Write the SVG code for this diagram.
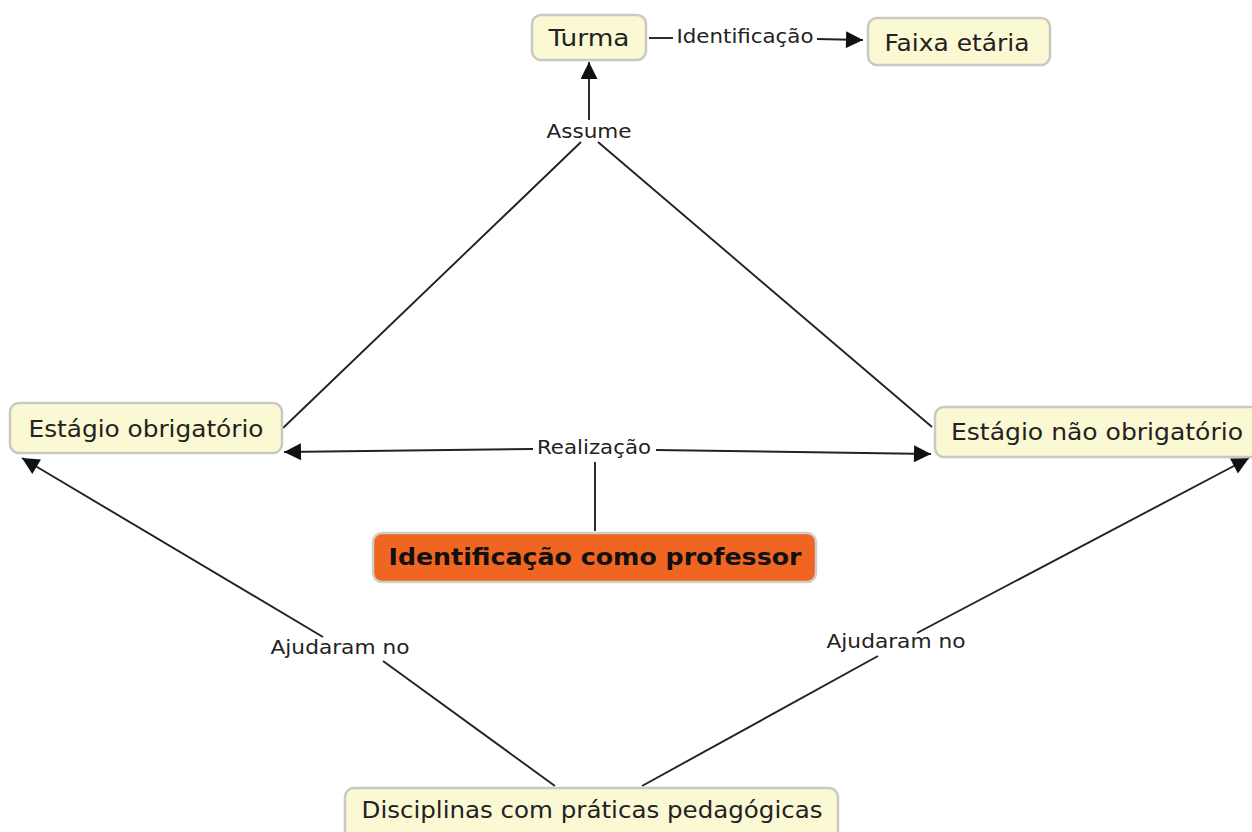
<svg xmlns="http://www.w3.org/2000/svg" width="1252" height="832" viewBox="0 0 1252 832">
<style>
.node rect{fill:#fbf9d3;stroke:#c9c9c2;stroke-width:2.5}
.node text{font-family:"DejaVu Sans",Verdana,sans-serif;font-size:23px;fill:#222;text-anchor:middle}
.lbl{font-family:"DejaVu Sans",Verdana,sans-serif;font-size:19px;fill:#222;text-anchor:middle}
.ln{stroke:#222;stroke-width:1.9;fill:none}
</style>
<defs>
<marker id="ahb" viewBox="0 0 10 10" refX="10" refY="5" markerWidth="18" markerHeight="17" markerUnits="userSpaceOnUse" orient="auto">
<path d="M0,0 L10,5 L0,10 z" fill="#111"/>
</marker>
</defs>
<g id="connectors">
<line class="ln" x1="649" y1="38" x2="673" y2="38"/>
<text class="lbl" x="745" y="43" textLength="137" lengthAdjust="spacingAndGlyphs">Identificação</text>
<line class="ln" x1="817" y1="39" x2="863" y2="40" marker-end="url(#ahb)"/>
<line class="ln" x1="589" y1="120" x2="589" y2="62" marker-end="url(#ahb)"/>
<text class="lbl" x="589" y="138" textLength="85" lengthAdjust="spacingAndGlyphs">Assume</text>
<line class="ln" x1="581" y1="142" x2="283" y2="428"/>
<line class="ln" x1="598" y1="142" x2="932" y2="427"/>
<text class="lbl" x="594" y="454" textLength="114" lengthAdjust="spacingAndGlyphs">Realização</text>
<line class="ln" x1="595" y1="531" x2="595" y2="462"/>
<line class="ln" x1="533" y1="449" x2="284" y2="452" marker-end="url(#ahb)"/>
<line class="ln" x1="656" y1="450" x2="931" y2="454" marker-end="url(#ahb)"/>
<text class="lbl" x="340" y="654" textLength="139" lengthAdjust="spacingAndGlyphs">Ajudaram no</text>
<line class="ln" x1="555" y1="786" x2="383" y2="661"/>
<line class="ln" x1="323" y1="637" x2="22" y2="458" marker-end="url(#ahb)"/>
<text class="lbl" x="896" y="648" textLength="139" lengthAdjust="spacingAndGlyphs">Ajudaram no</text>
<line class="ln" x1="642" y1="786" x2="878" y2="656"/>
<line class="ln" x1="917" y1="633" x2="1249" y2="458" marker-end="url(#ahb)"/>
</g>
<g id="n-turma" class="node">
<rect x="532" y="15" width="114" height="45" rx="9"/>
<text x="589" y="46" textLength="81" lengthAdjust="spacingAndGlyphs">Turma</text>
</g>
<g id="n-faixa" class="node">
<rect x="868" y="18" width="182" height="47" rx="9"/>
<text x="957" y="51" textLength="145" lengthAdjust="spacingAndGlyphs">Faixa etária</text>
</g>
<g id="n-obrig" class="node">
<rect x="10" y="403" width="272" height="50" rx="9"/>
<text x="146" y="437" textLength="235" lengthAdjust="spacingAndGlyphs">Estágio obrigatório</text>
</g>
<g id="n-naoobrig" class="node">
<rect x="935" y="407" width="330" height="50" rx="9"/>
<text x="1097" y="440" textLength="292" lengthAdjust="spacingAndGlyphs">Estágio não obrigatório</text>
</g>
<g id="n-ident" class="node">
<rect x="373" y="533" width="443" height="49" rx="9" style="fill:#f06522;stroke:#cfcfc8"/>
<text x="595" y="565" textLength="413" lengthAdjust="spacingAndGlyphs" style="font-weight:bold;fill:#111">Identificação como professor</text>
</g>
<g id="n-disc" class="node">
<rect x="345" y="788" width="493" height="60" rx="9"/>
<text x="592" y="818" textLength="461" lengthAdjust="spacingAndGlyphs">Disciplinas com práticas pedagógicas</text>
</g>
</svg>
